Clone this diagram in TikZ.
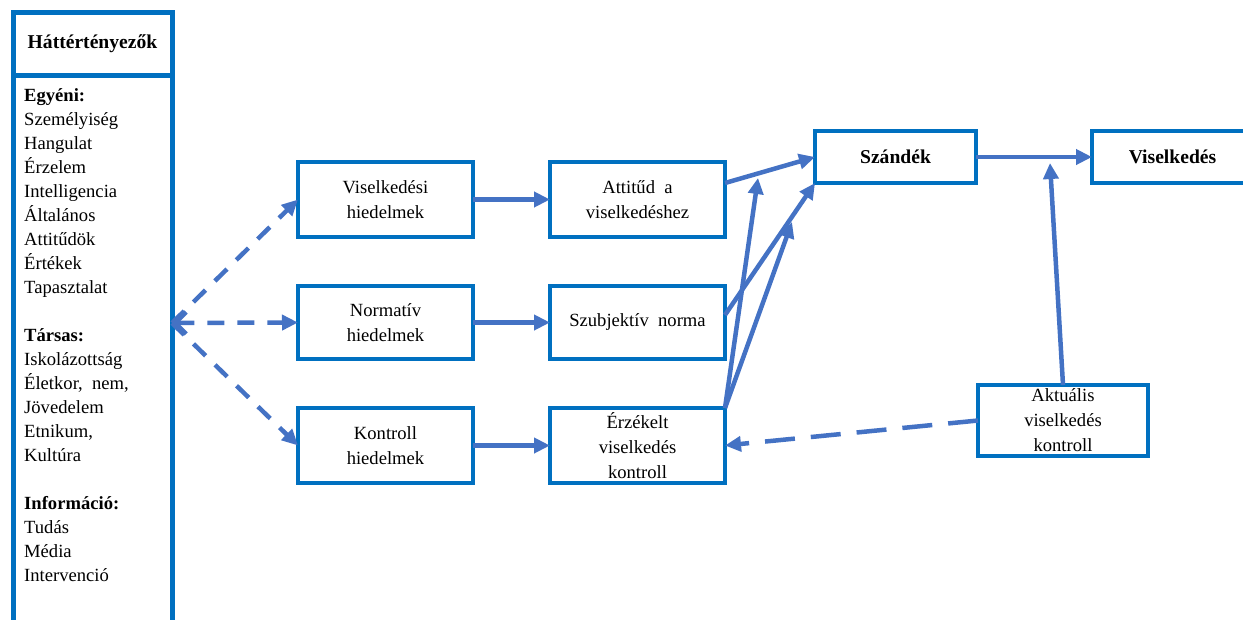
\documentclass[tikz,border=0pt]{standalone}
\usepackage{fontspec}
\setmainfont{Liberation Serif}
\usetikzlibrary{arrows.meta,positioning}
\definecolor{boxblue}{HTML}{0070C0}
\definecolor{arrowblue}{HTML}{4472C4}

\begin{document}
\begin{tikzpicture}[x=1pt,y=-1pt,>={Triangle[length=16pt,width=15pt]},font=\fontsize{18.6}{24}\selectfont]
                \tikzstyle{box}=[draw=boxblue,line width=4.5pt,outer sep=0pt,inner sep=0pt,align=center,minimum width=175pt,minimum height=75pt,font=\fontsize{18.6}{25}\selectfont]
                \tikzstyle{head}=[box,font=\fontsize{19.6}{24}\selectfont\bfseries,minimum width=161pt,minimum height=52pt]
                \tikzstyle{link}=[->,draw=arrowblue,line width=4.5pt]
                \tikzstyle{feedback}=[link,dash pattern=on 17pt off 13pt]

                \useasboundingbox (0,0) rectangle (1243,619);

                % background factors
                \node[box,line width=5pt,minimum width=159pt,minimum height=622pt,anchor=north west] (hatter) at (13,12) {};
                \node[head,line width=5pt,minimum width=159pt,minimum height=63pt,anchor=north west] (hatter_cim) at (13,12) {Háttértényezők};
                \node[anchor=north west,align=left,inner sep=0pt] (hatter_lista) at (24,88) {\textbf{Egyéni:}\\Személyiség\\Hangulat\\Érzelem\\Intelligencia\\Általános\\Attitűdök\\Értékek\\Tapasztalat\\[24pt]\textbf{Társas:}\\Iskolázottság\\Életkor,\ \ nem,\\Jövedelem\\Etnikum,\\Kultúra\\[24pt]\textbf{Információ:}\\Tudás\\Média\\Intervenció};

                \node[box] 		(vis_hied) at (385.5,199.5) 	{Viselkedési\\hiedelmek};
                \node[box,minimum height=73pt] 	(norm_hied) at (385.5,322.5) 	{Normatív\\hiedelmek};
                \node[box] 		(kont_hied) at (385.5,445.5) 	{Kontroll\\hiedelmek};

                \node[box,right=77pt of vis_hied] 	(attitud) 	{Attitűd\ \ a\\viselkedéshez};
                \node[box,minimum height=73pt,right=77pt of norm_hied] 	(szubj) 	{Szubjektív\ \ norma};
                \node[box,right=77pt of kont_hied] 	(erzekelt) 	{Érzékelt\\viselkedés\\kontroll};

                \node[head] 	(szandek) at (895.5,157) 	{Szándék};
                \node[head,right=116pt of szandek] 	(viselk) 	{Viselkedés};
                \node[box,minimum width=170pt,minimum height=71pt] 	(aktualis) at (1063,420.5) 	{Aktuális\\viselkedés\\kontroll};

                % ends that meet other arrows
                \coordinate (m_att) at (758,178);
                \coordinate (m_szubj) at (792,222);
                \coordinate (m_szand) at (1050,163);

                \draw[feedback] (hatter.east) -- (vis_hied.west);
                \draw[feedback,{Straight Barb[length=11pt,width=22pt]}->] (hatter.east) -- (norm_hied.west);
                \draw[feedback] (hatter.east) -- (kont_hied.west);

                \draw[link] (vis_hied) -- (attitud);
                \draw[link] (norm_hied) -- (szubj);
                \draw[link] (kont_hied) -- (erzekelt);

                \draw[link] ([yshift=16.5pt]attitud.east) -- (szandek.west);
                \draw[link] ([yshift=7.5pt]szubj.east) -- (szandek.south west);
                \draw[link] (erzekelt.north east) -- (m_att);
                \draw[link] (erzekelt.north east) -- (m_szubj);
                \draw[link] (szandek) -- (viselk);
                \draw[link] (aktualis.north) -- (m_szand);
                \draw[feedback,dash pattern=on 30pt off 16pt] (aktualis.west) -- (erzekelt.east);
\end{tikzpicture}
\end{document}
